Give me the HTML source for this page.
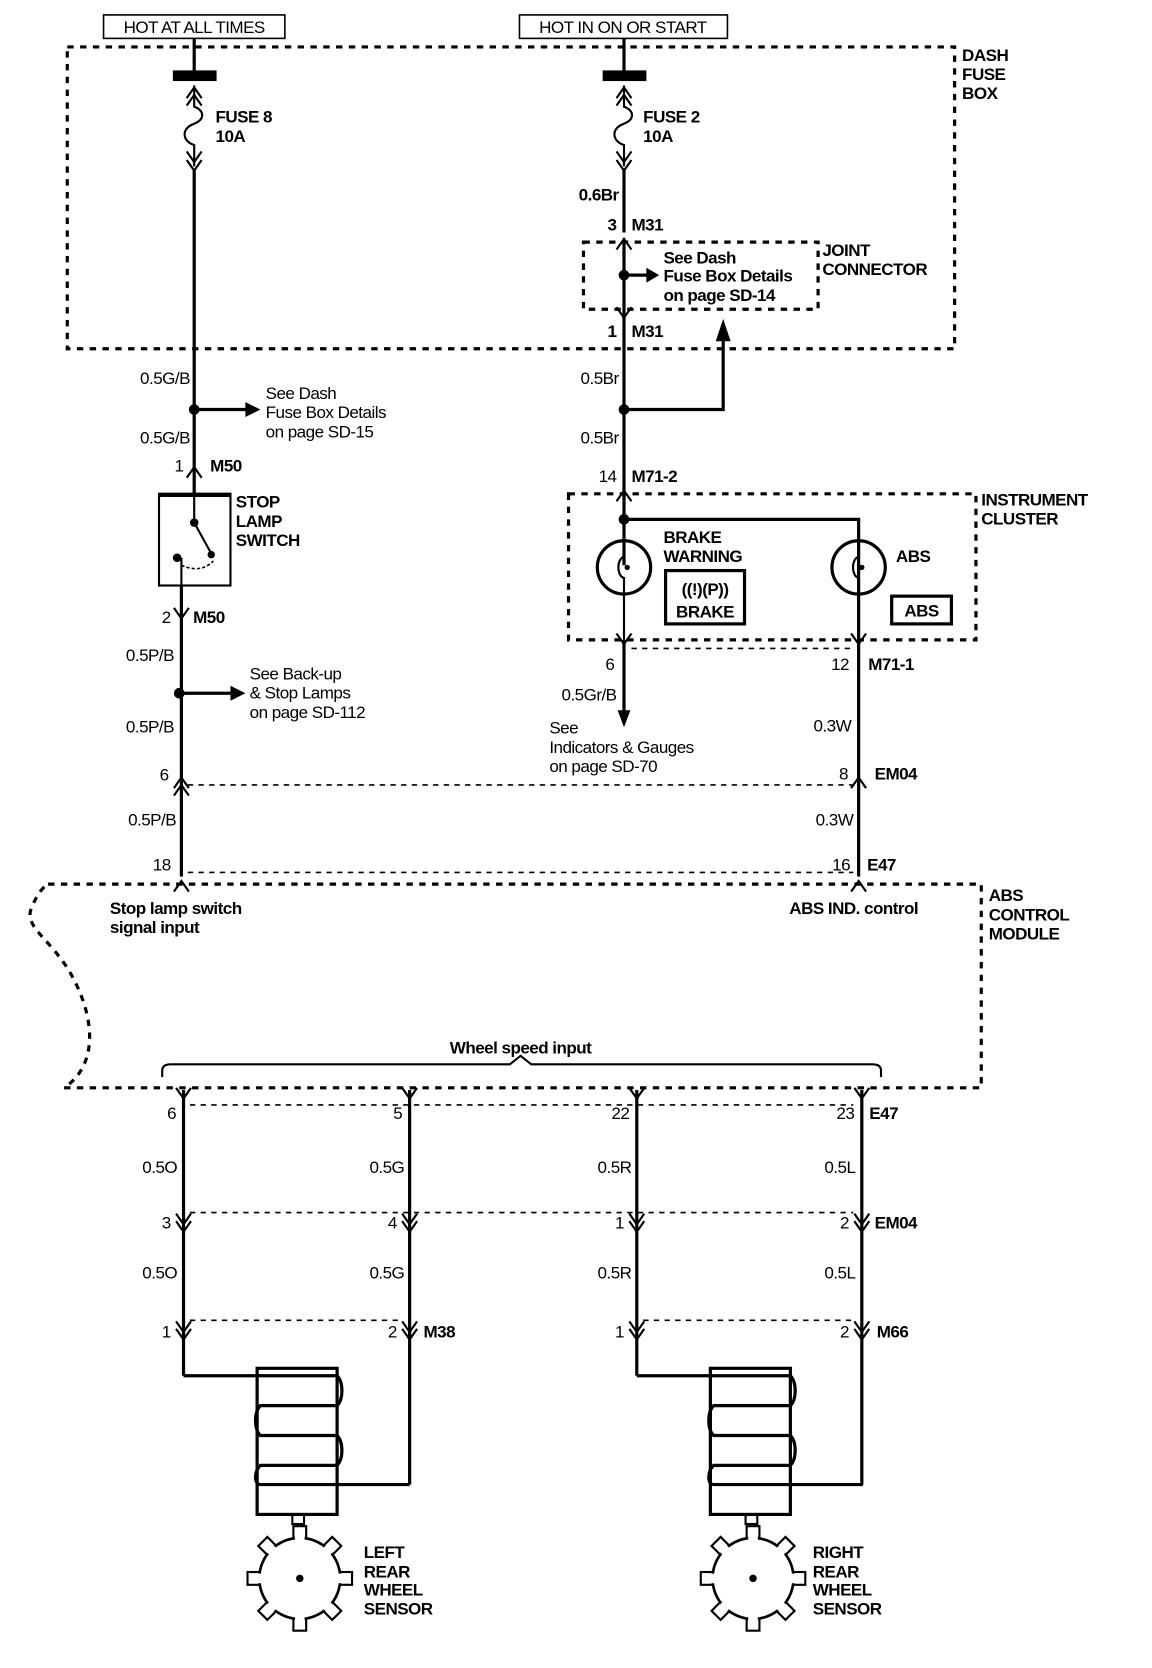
<!DOCTYPE html>
<html><head><meta charset="utf-8"><style>
html,body{margin:0;padding:0;background:#fff;}
svg{display:block;}
text{font-family:"Liberation Sans Narrow","Liberation Sans",sans-serif;fill:#000;letter-spacing:-0.5px;}
.b{font-weight:bold;font-size:16px;}
.n{font-size:16px;}
.w{stroke:#000;stroke-width:3;fill:none;}
.d{stroke:#000;stroke-width:3;fill:none;stroke-dasharray:6,6;}
.t{stroke:#000;stroke-width:1.5;fill:none;stroke-dasharray:5,5;}
.c{stroke:#000;stroke-width:2;fill:none;}
</style></head><body>
<svg width="1152" height="1668" viewBox="0 0 1080 1564" xmlns="http://www.w3.org/2000/svg">
<defs>
<path id="up" d="M-7,8 L0,-2 L7,8" class="c"/>
<path id="dn" d="M-7,-8 L0,2 L7,-8" class="c"/>
</defs>
<rect x="97" y="14" width="170" height="22" fill="none" stroke="#000" stroke-width="1.5"/>
<text x="182" y="31" class="n" text-anchor="middle">HOT AT ALL TIMES</text>
<rect x="487" y="14" width="195" height="22" fill="none" stroke="#000" stroke-width="1.5"/>
<text x="584" y="31" class="n" text-anchor="middle">HOT IN ON OR START</text>
<rect x="63" y="44" width="832" height="283" class="d"/>
<text x="902" y="57" class="b">DASH</text><text x="902" y="75" class="b">FUSE</text><text x="902" y="93" class="b">BOX</text>
<line x1="182" y1="36" x2="182" y2="72" class="w"/>
<rect x="162" y="66" width="41" height="10" fill="#000"/>
<use href="#up" x="182" y="84"/><use href="#up" x="182" y="91"/>
<path d="M182,80 V100 C192,104 192,112 182,116 C170,120 170,132 182,136 V156" class="c"/>
<use href="#dn" x="182" y="150"/><use href="#dn" x="182" y="158"/>
<text x="202" y="115" class="b">FUSE 8</text><text x="202" y="133" class="b">10A</text>
<line x1="182" y1="158" x2="182" y2="464" class="w"/>
<line x1="585" y1="36" x2="585" y2="72" class="w"/>
<rect x="565" y="66" width="41" height="10" fill="#000"/>
<use href="#up" x="585" y="84"/><use href="#up" x="585" y="91"/>
<path d="M585,80 V100 C595,104 595,112 585,116 C573,120 573,132 585,136 V156" class="c"/>
<use href="#dn" x="585" y="150"/><use href="#dn" x="585" y="158"/>
<text x="603" y="115" class="b">FUSE 2</text><text x="603" y="133" class="b">10A</text>
<line x1="585" y1="158" x2="585" y2="218" class="w"/>
<text x="580" y="188" class="b" text-anchor="end">0.6Br</text>
<text x="578" y="216" class="b" text-anchor="end">3</text><text x="592" y="216" class="b">M31</text>
<use href="#up" x="585" y="226"/>
<line x1="585" y1="226" x2="585" y2="296" class="w"/>
<rect x="547" y="227" width="220" height="63" class="d"/>
<circle cx="585" cy="258" r="5"/>
<line x1="585" y1="258" x2="608" y2="258" class="w"/><path d="M606,251 L618,258 L606,265Z"/>
<text x="622" y="247" class="b" font-size="15">See Dash</text>
<text x="622" y="264" class="b" font-size="15">Fuse Box Details</text>
<text x="622" y="282" class="b" font-size="15">on page SD-14</text>
<text x="771" y="240" class="b">JOINT</text><text x="771" y="258" class="b">CONNECTOR</text>
<use href="#dn" x="585" y="296"/>
<text x="578" y="316" class="b" text-anchor="end">1</text><text x="592" y="316" class="b">M31</text>
<line x1="585" y1="296" x2="585" y2="458" class="w"/>
<path d="M585,384 H678 V318" class="w"/><path d="M671,320 L678,299 L685,320Z"/>
<circle cx="585" cy="384" r="5"/>
<text x="580" y="360" class="n" text-anchor="end">0.5Br</text>
<text x="580" y="416" class="n" text-anchor="end">0.5Br</text>
<text x="578" y="452" class="n" text-anchor="end">14</text><text x="592" y="452" class="b">M71-2</text>
<use href="#up" x="585" y="462"/>
<text x="178" y="360" class="n" text-anchor="end">0.5G/B</text>
<circle cx="182" cy="384" r="5"/>
<line x1="182" y1="384" x2="232" y2="384" class="w"/><path d="M230,377 L244,384 L230,391Z"/>
<text x="249" y="374" class="n">See Dash</text><text x="249" y="392" class="n">Fuse Box Details</text><text x="249" y="410" class="n">on page SD-15</text>
<text x="178" y="416" class="n" text-anchor="end">0.5G/B</text>
<text x="172" y="442" class="n" text-anchor="end">1</text><text x="197" y="442" class="b">M50</text>
<use href="#up" x="182" y="440"/>
<rect x="149" y="463" width="67" height="86" fill="none" stroke="#000" stroke-width="2"/>
<line x1="149" y1="464" x2="216" y2="464" stroke="#000" stroke-width="4"/>
<circle cx="182" cy="490" r="4"/><line x1="182" y1="490" x2="198" y2="519" class="c"/>
<circle cx="198" cy="520" r="3.5"/><circle cx="166" cy="523" r="4"/>
<path d="M170,530 Q188,538 200,526" fill="none" stroke="#000" stroke-width="1.5" stroke-dasharray="3,2"/>
<line x1="182" y1="464" x2="182" y2="490" class="c"/>
<line x1="170" y1="523" x2="170" y2="549" class="c"/>
<text x="221" y="476" class="b">STOP</text><text x="221" y="494" class="b">LAMP</text><text x="221" y="512" class="b">SWITCH</text>
<line x1="170" y1="549" x2="170" y2="822" class="w"/>
<use href="#dn" x="170" y="578"/>
<text x="160" y="584" class="n" text-anchor="end">2</text><text x="181" y="584" class="b">M50</text>
<text x="163" y="620" class="n" text-anchor="end">0.5P/B</text>
<circle cx="168" cy="650" r="5"/>
<line x1="168" y1="650" x2="218" y2="650" class="w"/><path d="M216,643 L230,650 L216,657Z"/>
<text x="234" y="637" class="n">See Back-up</text><text x="234" y="655" class="n">&amp; Stop Lamps</text><text x="234" y="673" class="n">on page SD-112</text>
<text x="163" y="687" class="n" text-anchor="end">0.5P/B</text>
<use href="#up" x="170" y="731"/><use href="#up" x="170" y="738"/>
<text x="158" y="732" class="n" text-anchor="end">6</text>
<line x1="176" y1="736" x2="800" y2="736" class="t"/>
<text x="165" y="774" class="n" text-anchor="end">0.5P/B</text>
<text x="160" y="816" class="n" text-anchor="end">18</text>
<line x1="176" y1="818" x2="800" y2="818" class="t"/>
<use href="#up" x="170" y="828"/>
<rect x="533" y="463" width="382" height="137" class="d"/>
<text x="920" y="474" class="b">INSTRUMENT</text><text x="920" y="492" class="b">CLUSTER</text>
<circle cx="585" cy="487" r="5"/>
<path d="M585,487 H805 V600" class="w"/>
<circle cx="585" cy="532" r="25" class="w"/><circle cx="805" cy="532" r="25" class="w"/>
<path d="M585,507 V522 C578,524 578,540 585,542 V600" fill="none" stroke="#000" stroke-width="2"/>
<path d="M805,507 V522 C798,524 798,540 805,542 V600" fill="none" stroke="#000" stroke-width="2"/>
<circle cx="588" cy="532" r="2.5"/><circle cx="808" cy="532" r="2.5"/>
<line x1="585" y1="458" x2="585" y2="530" class="w"/>
<text x="622" y="509" class="b">BRAKE</text><text x="622" y="527" class="b">WARNING</text>
<rect x="624" y="535" width="74" height="50" fill="none" stroke="#000" stroke-width="3"/>
<text x="661" y="558" class="b" text-anchor="middle">((!)(P))</text>
<text x="661" y="579" class="b" text-anchor="middle">BRAKE</text>
<text x="840" y="527" class="b">ABS</text>
<rect x="836" y="559" width="56" height="26" fill="none" stroke="#000" stroke-width="3"/>
<text x="864" y="578" class="b" text-anchor="middle">ABS</text>
<use href="#dn" x="585" y="602"/><use href="#dn" x="805" y="602"/>
<line x1="592" y1="608" x2="800" y2="608" class="t"/>
<text x="576" y="628" class="n" text-anchor="end">6</text>
<text x="796" y="628" class="n" text-anchor="end">12</text><text x="814" y="628" class="b">M71-1</text>
<line x1="585" y1="600" x2="585" y2="668" class="w"/><path d="M579,666 L585,682 L591,666Z"/>
<text x="578" y="657" class="n" text-anchor="end">0.5Gr/B</text>
<text x="515" y="688" class="n">See</text><text x="515" y="706" class="n">Indicators &amp; Gauges</text><text x="515" y="724" class="n">on page SD-70</text>
<line x1="805" y1="600" x2="805" y2="822" class="w"/>
<text x="798" y="686" class="n" text-anchor="end">0.3W</text>
<use href="#up" x="805" y="731"/>
<text x="795" y="731" class="n" text-anchor="end">8</text><text x="820" y="731" class="b">EM04</text>
<text x="800" y="774" class="n" text-anchor="end">0.3W</text>
<text x="797" y="816" class="n" text-anchor="end">16</text><text x="813" y="816" class="b">E47</text>
<use href="#up" x="805" y="828"/>
<path d="M45,829 H920 V1020 H60 C90,1000 90,960 70,920 C50,880 20,870 30,850 C35,838 40,832 45,829" class="d"/>
<text x="927" y="845" class="b">ABS</text><text x="927" y="863" class="b">CONTROL</text><text x="927" y="881" class="b">MODULE</text>
<text x="103" y="857" class="b" font-size="15">Stop lamp switch</text><text x="103" y="875" class="b" font-size="15">signal input</text>
<text x="740" y="857" class="b" font-size="15">ABS IND. control</text>
<text x="488" y="988" class="b" font-size="15" text-anchor="middle">Wheel speed input</text>
<path d="M152,1010 V1004 Q152,998 160,998 H478 L488,990 L498,998 H818 Q826,998 826,1004 V1010" fill="none" stroke="#000" stroke-width="2"/>
<g>
<line x1="172" y1="1022" x2="172" y2="1290" class="w"/>
<line x1="384" y1="1022" x2="384" y2="1392" class="w"/>
<line x1="597" y1="1022" x2="597" y2="1290" class="w"/>
<line x1="808" y1="1022" x2="808" y2="1392" class="w"/>
<use href="#dn" x="172" y="1028"/><use href="#dn" x="384" y="1028"/><use href="#dn" x="597" y="1028"/><use href="#dn" x="808" y="1028"/>
<line x1="178" y1="1036" x2="800" y2="1036" class="t"/>
<text x="165" y="1049" class="n" text-anchor="end">6</text>
<text x="377" y="1049" class="n" text-anchor="end">5</text>
<text x="590" y="1049" class="n" text-anchor="end">22</text>
<text x="801" y="1049" class="n" text-anchor="end">23</text><text x="815" y="1049" class="b">E47</text>
<text x="166" y="1100" class="n" text-anchor="end">0.5O</text>
<text x="379" y="1100" class="n" text-anchor="end">0.5G</text>
<text x="592" y="1100" class="n" text-anchor="end">0.5R</text>
<text x="802" y="1100" class="n" text-anchor="end">0.5L</text>
<use href="#dn" x="172" y="1146"/><use href="#dn" x="384" y="1146"/><use href="#dn" x="597" y="1146"/><use href="#dn" x="808" y="1146"/>
<use href="#dn" x="172" y="1153"/><use href="#dn" x="384" y="1153"/><use href="#dn" x="597" y="1153"/><use href="#dn" x="808" y="1153"/>
<line x1="178" y1="1137" x2="800" y2="1137" class="t"/>
<text x="160" y="1152" class="n" text-anchor="end">3</text>
<text x="372" y="1152" class="n" text-anchor="end">4</text>
<text x="585" y="1152" class="n" text-anchor="end">1</text>
<text x="796" y="1152" class="n" text-anchor="end">2</text><text x="820" y="1152" class="b">EM04</text>
<text x="166" y="1199" class="n" text-anchor="end">0.5O</text>
<text x="379" y="1199" class="n" text-anchor="end">0.5G</text>
<text x="592" y="1199" class="n" text-anchor="end">0.5R</text>
<text x="802" y="1199" class="n" text-anchor="end">0.5L</text>
<use href="#dn" x="172" y="1247"/><use href="#dn" x="384" y="1247"/><use href="#dn" x="597" y="1247"/><use href="#dn" x="808" y="1247"/>
<use href="#dn" x="172" y="1254"/><use href="#dn" x="384" y="1254"/><use href="#dn" x="597" y="1254"/><use href="#dn" x="808" y="1254"/>
<line x1="178" y1="1238" x2="378" y2="1238" class="t"/>
<line x1="603" y1="1238" x2="802" y2="1238" class="t"/>
<text x="160" y="1254" class="n" text-anchor="end">1</text>
<text x="372" y="1254" class="n" text-anchor="end">2</text><text x="397" y="1254" class="b">M38</text>
<text x="585" y="1254" class="n" text-anchor="end">1</text>
<text x="796" y="1254" class="n" text-anchor="end">2</text><text x="822" y="1254" class="b">M66</text>
</g>
<g id="sL">
<line x1="172" y1="1290" x2="316" y2="1290" class="w"/>
<rect x="241" y="1283" width="75" height="137" fill="none" stroke="#000" stroke-width="3"/>
<path d="M316,1290 C322,1296 322,1312 316,1318 H244 C238,1324 238,1340 244,1346 H316 C322,1352 322,1368 316,1374 H244 C238,1380 238,1392 244,1392 H384" class="w"/>
<rect x="274" y="1420" width="11" height="9" fill="none" stroke="#000" stroke-width="2"/>
<g transform="translate(281,1480)">
<g fill="#fff" stroke="#000" stroke-width="2">
<rect x="-6" y="-49" width="12" height="14"/>
<rect x="-6" y="-49" width="12" height="14" transform="rotate(45)"/>
<rect x="-6" y="-49" width="12" height="14" transform="rotate(90)"/>
<rect x="-6" y="-49" width="12" height="14" transform="rotate(135)"/>
<rect x="-6" y="-49" width="12" height="14" transform="rotate(180)"/>
<rect x="-6" y="-49" width="12" height="14" transform="rotate(225)"/>
<rect x="-6" y="-49" width="12" height="14" transform="rotate(270)"/>
<rect x="-6" y="-49" width="12" height="14" transform="rotate(315)"/>
</g>
<circle r="38" fill="#fff" stroke="#000" stroke-width="2.5"/>
<g fill="#fff"><rect x="-4.5" y="-40" width="9" height="6"/><rect x="-4.5" y="-40" width="9" height="6" transform="rotate(45)"/><rect x="-4.5" y="-40" width="9" height="6" transform="rotate(90)"/><rect x="-4.5" y="-40" width="9" height="6" transform="rotate(135)"/><rect x="-4.5" y="-40" width="9" height="6" transform="rotate(180)"/><rect x="-4.5" y="-40" width="9" height="6" transform="rotate(225)"/><rect x="-4.5" y="-40" width="9" height="6" transform="rotate(270)"/><rect x="-4.5" y="-40" width="9" height="6" transform="rotate(315)"/></g>
<circle r="3.5" fill="#000"/>
</g>
</g>
<use href="#sL" x="425" y="0"/>
<text x="341" y="1461" class="b">LEFT</text><text x="341" y="1479" class="b">REAR</text><text x="341" y="1496" class="b">WHEEL</text><text x="341" y="1514" class="b">SENSOR</text>
<text x="762" y="1461" class="b">RIGHT</text><text x="762" y="1479" class="b">REAR</text><text x="762" y="1496" class="b">WHEEL</text><text x="762" y="1514" class="b">SENSOR</text>
</svg>
</body></html>
